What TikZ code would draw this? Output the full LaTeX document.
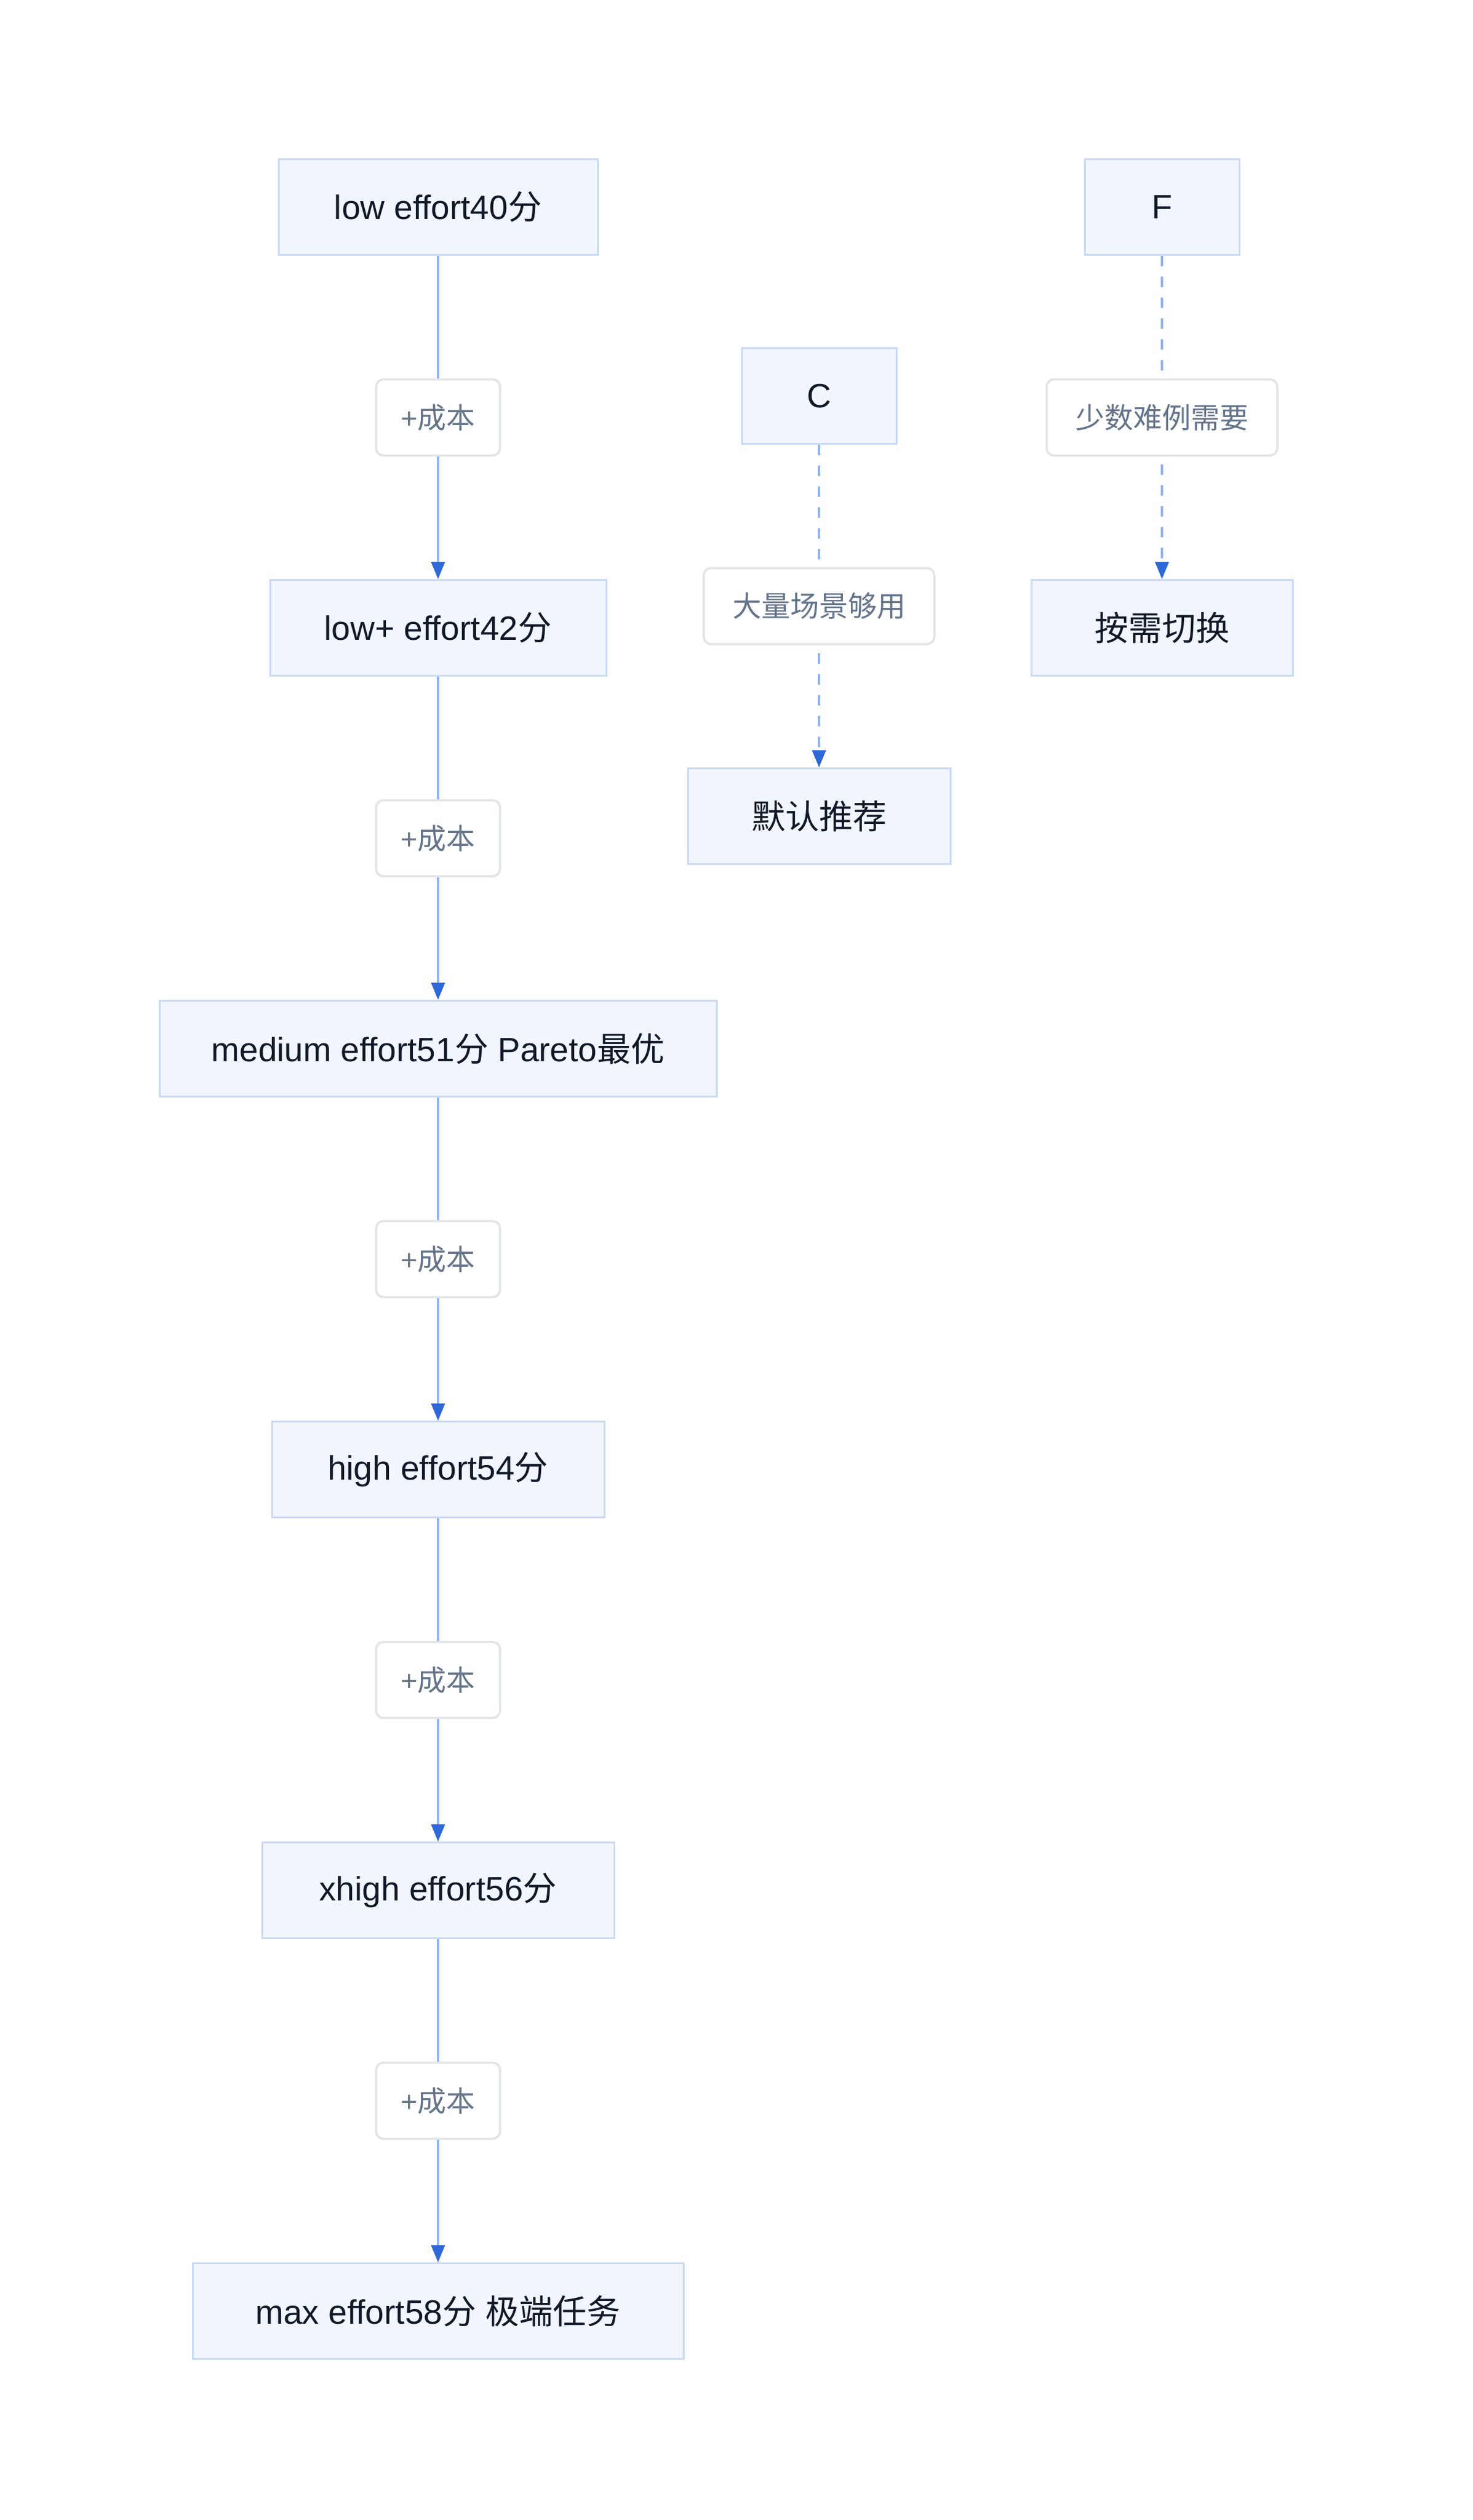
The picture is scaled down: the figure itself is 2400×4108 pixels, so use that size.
\documentclass[tikz,border=0pt]{standalone}
\usepackage{fontspec}
\setmainfont{Liberation Sans}
\newfontfamily\cjk{Noto Sans CJK SC}
\usetikzlibrary{arrows.meta}
\definecolor{boxfill}{HTML}{F1F6FE}
\definecolor{boxborder}{HTML}{C9DAF4}
\definecolor{edgeblue}{HTML}{93B4F0}
\definecolor{tipblue}{HTML}{2F68D8}
\definecolor{lblborder}{HTML}{E3E4E8}
\definecolor{lbltext}{HTML}{64748B}
\definecolor{textdark}{HTML}{111827}
\newcommand{\mainsz}{\fontsize{27.5pt}{33pt}\selectfont}
\newcommand{\lblsz}{\fontsize{23.5pt}{28pt}\selectfont}
\tikzset{
  mainbox/.style={draw=boxborder, fill=boxfill, line width=1.5pt, minimum height=78pt, inner sep=0pt, font=\mainsz, text=textdark},
  edgelbl/.style={draw=lblborder, fill=white, line width=1.75pt, rounded corners=6pt, minimum height=62pt, inner sep=0pt, font=\lblsz, text=lbltext},
  flow/.style={draw=edgeblue, line width=1.7pt, -{Triangle[length=14pt,width=11pt,color=tipblue]}},
  flowdash/.style={flow, dash pattern=on 8.5pt off 8.5pt},
}
\begin{document}
\begin{tikzpicture}[x=0.5pt,y=-0.5pt]
\useasboundingbox[fill=white] (0,0) rectangle (2400,4108);
% main column
\node[mainbox, minimum width=260pt] (n1) at (714,337.5) {low effort40{\cjk 分}};
\node[mainbox, minimum width=274pt] (n2) at (714,1023.5) {low+ effort42{\cjk 分}};
\node[mainbox, minimum width=454pt] (n3) at (714,1709.5) {medium effort51{\cjk 分} Pareto{\cjk 最优}};
\node[mainbox, minimum width=271pt] (n4) at (714,2395.5) {high effort54{\cjk 分}};
\node[mainbox, minimum width=287pt] (n5) at (714,3081.5) {xhigh effort56{\cjk 分}};
\node[mainbox, minimum width=400pt] (n6) at (714,3767.5) {max effort58{\cjk 分} {\cjk 极端任务}};
% middle column
\node[mainbox, minimum width=126pt] (c) at (1335,645.5) {C};
\node[mainbox, minimum width=214pt] (d) at (1335,1330.5) {\cjk 默认推荐};
% right column
\node[mainbox, minimum width=126pt] (f) at (1894,337.5) {F};
\node[mainbox, minimum width=213pt] (g) at (1894,1023.5) {\cjk 按需切换};
% edges
\draw[flow] (n1.south) -- (n2.north);
\draw[flow] (n2.south) -- (n3.north);
\draw[flow] (n3.south) -- (n4.north);
\draw[flow] (n4.south) -- (n5.north);
\draw[flow] (n5.south) -- (n6.north);
\draw[flowdash] (c.south) -- (d.north);
\draw[flowdash] (f.south) -- (g.north);
% edge labels
\node[edgelbl, minimum width=101pt] (l1) at (714,680.5) {+{\cjk 成本}};
\node[edgelbl, minimum width=101pt] (l2) at (714,1366.5) {+{\cjk 成本}};
\node[edgelbl, minimum width=101pt] (l3) at (714,2052.5) {+{\cjk 成本}};
\node[edgelbl, minimum width=101pt] (l4) at (714,2738.5) {+{\cjk 成本}};
\node[edgelbl, minimum width=101pt] (l5) at (714,3424.5) {+{\cjk 成本}};
\node[edgelbl, minimum width=188pt] (lc) at (1335,988) {\cjk 大量场景够用};
\node[edgelbl, minimum width=188pt] (lf) at (1894,680.5) {\cjk 少数难例需要};
\end{tikzpicture}
\end{document}
